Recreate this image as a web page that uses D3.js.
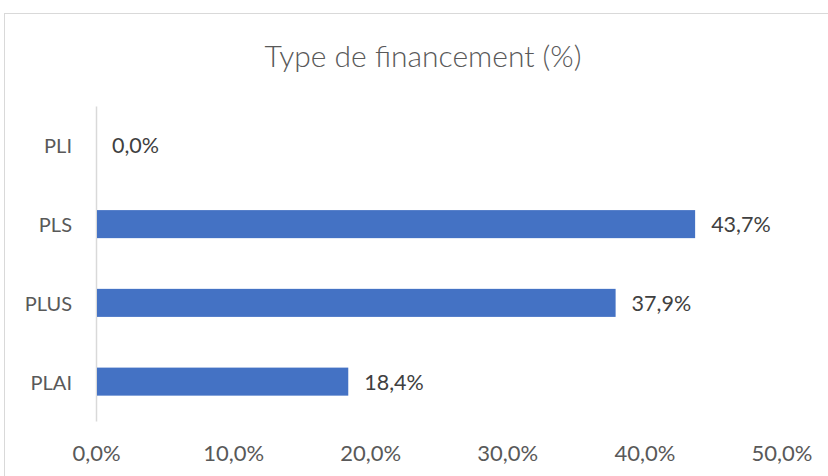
<!DOCTYPE html>
<html>
<head>
<meta charset="utf-8">
<script src="https://cdn.jsdelivr.net/npm/d3@7"></script>
<style>
  body { margin: 0; background: #fff; }
  svg text { font-family: Lato, "Open Sans", sans-serif; }
</style>
</head>
<body>
<script>
  // chart data
  let categories = ["PLI", "PLS", "PLUS", "PLAI"];
  let values = [0.0, 43.7, 37.9, 18.4];
  let xTicks = [0, 10, 20, 30, 40, 50];
  let title = "Type de financement (%)";

  let fr = d3.formatLocale({decimal: ",", thousands: " ", grouping: [3], currency: ["", " €"]});
  let fmt = (d) => fr.format(".1f")(d) + "%";

  let svg = d3.select("body")
    .append("svg")
    .attr("width", 828)
    .attr("height", 476);

  // chart frame
  svg.append("rect")
    .attr("x", 4.5)
    .attr("y", 13.5)
    .attr("width", 840)
    .attr("height", 480)
    .attr("fill", "#fff")
    .attr("stroke", "#d9d9d9");

  svg.append("text")
    .attr("x", 423)
    .attr("y", 55)
    .attr("text-anchor", "middle")
    .attr("dominant-baseline", "central")
    .attr("fill", "#595959")
    .style("font-size", "30px")
    .style("font-weight", 300)
    .text(title);

  let xScale = d3.scaleLinear()
    .domain([0, 50])
    .range([96, 781.5]);

  let yScale = d3.scaleBand()
    .domain(categories)
    .range([106, 421])
    .paddingInner(0.644)
    .paddingOuter(0.322);

  // x axis labels only
  let xAxis = d3.axisBottom(xScale)
    .tickValues(xTicks)
    .tickSize(0)
    .tickPadding(0)
    .tickFormat(fmt);

  let gx = svg.append("g")
    .attr("transform", "translate(0, 452)")
    .call(xAxis);
  gx.select(".domain").remove();
  gx.selectAll("text")
    .attr("dy", null)
    .attr("dominant-baseline", "central")
    .attr("fill", "#595959")
    .style("font-size", "22px");

  // y axis
  let yAxis = d3.axisLeft(yScale)
    .tickSize(0)
    .tickSizeOuter(0)
    .tickPadding(24);

  let gy = svg.append("g")
    .attr("transform", "translate(96, 0)")
    .call(yAxis);
  gy.select(".domain")
    .attr("stroke", "#d9d9d9")
    .attr("stroke-width", 1.5);
  gy.selectAll("text")
    .attr("dy", null)
    .attr("dominant-baseline", "central")
    .attr("fill", "#595959")
    .style("font-size", "20px");

  let rows = categories.map((c, i) => ({cat: c, val: values[i]}));

  svg.selectAll(".bar")
    .data(rows)
    .enter()
    .append("rect")
    .attr("class", "bar")
    .attr("x", xScale(0) + 1)
    .attr("y", (d) => yScale(d.cat))
    .attr("width", (d) => Math.max(0, xScale(d.val) - xScale(0) - 1))
    .attr("height", yScale.bandwidth())
    .attr("fill", "#4472c4");

  // value labels
  svg.selectAll(".label")
    .data(rows)
    .enter()
    .append("text")
    .attr("class", "label")
    .attr("x", (d) => xScale(d.val) + 16)
    .attr("y", (d) => yScale(d.cat) + yScale.bandwidth() / 2)
    .attr("dominant-baseline", "central")
    .attr("fill", "#404040")
    .style("font-size", "21.5px")
    .text((d) => fmt(d.val));
</script>
</body>
</html>
